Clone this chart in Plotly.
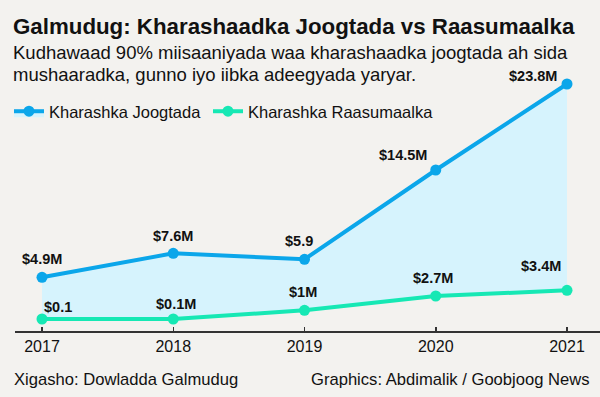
import plotly.graph_objects as go

years = [2017, 2018, 2019, 2020, 2021]
recurrent = [4.30, 6.72, 6.12, 15.12, 23.79]
capital = [0.10, 0.10, 0.98, 2.42, 2.99]
recurrent_labels = ["$4.9M", "$7.6M", "$5.9", "$14.5M", "$23.8M"]
capital_labels = ["$0.1", "$0.1M", "$1M", "$2.7M", "$3.4M"]
series_names = ["Kharashka Joogtada", "Kharashka Raasumaalka"]

title = "Galmudug: Kharashaadka Joogtada vs Raasumaalka"
subtitle_lines = ["Kudhawaad 90% miisaaniyada waa kharashaadka joogtada ah sida",
                  "mushaaradka, gunno iyo iibka adeegyada yaryar."]
source = "Xigasho: Dowladda Galmudug"
credit = "Graphics: Abdimalik / Goobjoog News"

W, H = 600, 397
L, R, T, B = 15, 0, 70, 66
pw, ph = W - L - R, H - T - B

BG = "#f3f2ef"
BLUE = "#0ba6ea"
GREEN = "#16e8b4"
FILL = "#d6f3fd"
INK = "#111111"
FONT = "Liberation Sans, Arial, sans-serif"

def px_x(px):
    return (px - L) / pw

def px_y(py):
    return (H - B - py) / ph

fig = go.Figure()
fig.add_trace(go.Scatter(
    x=years, y=capital, name=series_names[1], mode="lines+markers",
    line=dict(color=GREEN, width=4), marker=dict(size=11, color=GREEN),
    legend="legend2", hoverinfo="skip",
))
fig.add_trace(go.Scatter(
    x=years, y=recurrent, name=series_names[0], mode="lines+markers",
    line=dict(color=BLUE, width=4), marker=dict(size=11, color=BLUE),
    fill="tonexty", fillcolor=FILL, legend="legend", hoverinfo="skip",
))

rec_shift = [(0, 18), (0, 17), (-6, 18), (-33, 15), (-34, 8)]
cap_shift = [(16, 12), (3, 15), (-2, 18), (-3, 18), (-26, 24)]
for i, yr in enumerate(years):
    fig.add_annotation(x=yr, y=recurrent[i], text="<b>" + recurrent_labels[i] + "</b>", showarrow=False,
                       xshift=rec_shift[i][0], yshift=rec_shift[i][1],
                       font=dict(family=FONT, size=14.5, color=INK), xanchor="center", yanchor="middle")
    fig.add_annotation(x=yr, y=capital[i], text="<b>" + capital_labels[i] + "</b>", showarrow=False,
                       xshift=cap_shift[i][0], yshift=cap_shift[i][1],
                       font=dict(family=FONT, size=14.5, color=INK), xanchor="center", yanchor="middle")

# title
fig.add_annotation(xref="paper", yref="paper", x=px_x(11), y=px_y(27), text="<b>" + title + "</b>",
                   showarrow=False, xanchor="left", yanchor="middle",
                   font=dict(family=FONT, size=22.3, color=INK))
# subtitle
for line, py in zip(subtitle_lines, [52, 74.5]):
    fig.add_annotation(xref="paper", yref="paper", x=px_x(11), y=px_y(py), text=line,
                       showarrow=False, xanchor="left", yanchor="middle",
                       font=dict(family=FONT, size=18.5, color=INK))
# footer
fig.add_annotation(xref="paper", yref="paper", x=px_x(12), y=px_y(379), text=source,
                   showarrow=False, xanchor="left", yanchor="middle",
                   font=dict(family=FONT, size=16.6, color=INK))
fig.add_annotation(xref="paper", yref="paper", x=px_x(592), y=px_y(379), text=credit,
                   showarrow=False, xanchor="right", yanchor="middle",
                   font=dict(family=FONT, size=16.6, color=INK))

legend_style = dict(orientation="h", xref="paper", yref="paper", xanchor="left", yanchor="middle",
                    font=dict(family=FONT, size=16.5, color=INK), bgcolor="rgba(0,0,0,0)",
                    itemwidth=30)

v0 = 320
scale = 9.92
fig.update_layout(
    width=W, height=H,
    margin=dict(l=L, r=R, t=T, b=B, autoexpand=False),
    paper_bgcolor=BG, plot_bgcolor=BG,
    showlegend=True,
    hovermode=False,
    legend=dict(x=px_x(9), y=px_y(111.5), **legend_style),
    legend2=dict(x=px_x(208), y=px_y(111.5), **legend_style),
    xaxis=dict(range=[2017 - 27 / 131.25, 2021 + 33 / 131.25], tickvals=years,
               ticktext=[str(y) for y in years], showgrid=False, zeroline=False,
               showline=True, linecolor="#333", linewidth=1.5,
               ticks="inside", ticklen=4, tickcolor="#333", tickwidth=1.5,
               tickfont=dict(family=FONT, size=16, color=INK)),
    yaxis=dict(range=[(v0 - (H - B)) / scale, (v0 - T) / scale], visible=False,
               showgrid=False, zeroline=False),
)

fig.write_html("out.html", config={"displayModeBar": False, "staticPlot": True},
               post_script="document.body.style.margin='0';document.body.style.padding='0';"
                           "document.documentElement.style.overflow='hidden';")
